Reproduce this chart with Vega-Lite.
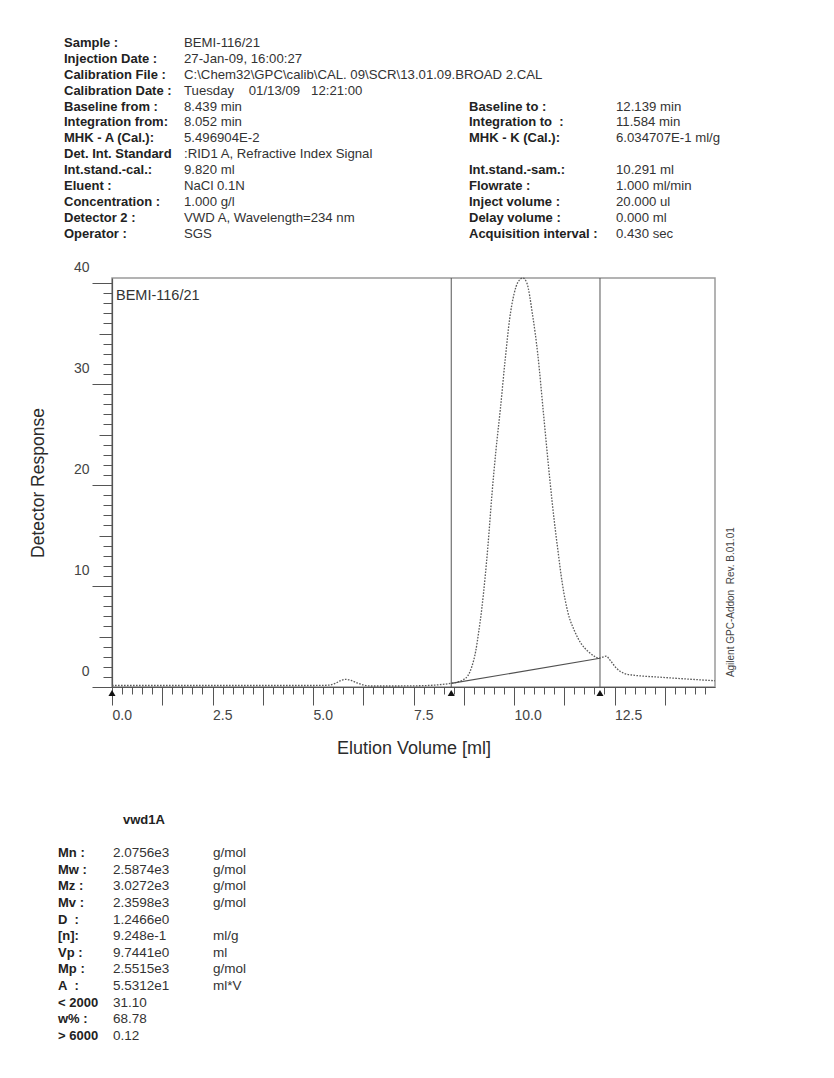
{
  "$schema": "https://vega.github.io/schema/vega-lite/v6.json",
  "background": "white",
  "padding": {"left": 28, "top": 0, "right": 5, "bottom": 0},
  "bounds": "flush",
  "spacing": 0,
  "config": {
    "font": "Liberation Sans",
    "view": {"stroke": null},
    "axis": {"labelFont": "Liberation Sans", "titleFont": "Liberation Sans", "grid": false}
  },
  "datasets": {
    "header": [
      {"side": "left", "line": 0, "label": "Sample :", "value": "BEMI-116/21"},
      {"side": "left", "line": 1, "label": "Injection Date :", "value": "27-Jan-09, 16:00:27"},
      {"side": "left", "line": 2, "label": "Calibration File :", "value": "C:\\Chem32\\GPC\\calib\\CAL. 09\\SCR\\13.01.09.BROAD 2.CAL"},
      {"side": "left", "line": 3, "label": "Calibration Date :", "value": "Tuesday\u00a0\u00a0\u00a0\u00a001/13/09\u00a0\u00a0\u00a012:21:00"},
      {"side": "left", "line": 4, "label": "Baseline from :", "value": "\u00a0\u00a08.439 min"},
      {"side": "left", "line": 5, "label": "Integration from:", "value": "\u00a0\u00a08.052 min"},
      {"side": "left", "line": 6, "label": "MHK - A (Cal.):", "value": "\u00a05.496904E-2"},
      {"side": "left", "line": 7, "label": "Det. Int. Standard", "value": ":RID1 A, Refractive Index Signal"},
      {"side": "left", "line": 8, "label": "Int.stand.-cal.:", "value": "\u00a0\u00a09.820 ml"},
      {"side": "left", "line": 9, "label": "Eluent :", "value": "NaCl 0.1N"},
      {"side": "left", "line": 10, "label": "Concentration :", "value": "\u00a0\u00a01.000 g/l"},
      {"side": "left", "line": 11, "label": "Detector 2 :", "value": "VWD A, Wavelength=234 nm"},
      {"side": "left", "line": 12, "label": "Operator :", "value": "SGS"},
      {"side": "right", "line": 4, "label": "Baseline to :", "value": "12.139 min"},
      {"side": "right", "line": 5, "label": "Integration to\u00a0\u00a0:", "value": "11.584 min"},
      {"side": "right", "line": 6, "label": "MHK - K (Cal.):", "value": "6.034707E-1 ml/g"},
      {"side": "right", "line": 8, "label": "Int.stand.-sam.:", "value": "10.291 ml"},
      {"side": "right", "line": 9, "label": "Flowrate :", "value": "\u00a01.000 ml/min"},
      {"side": "right", "line": 10, "label": "Inject volume :", "value": "20.000 ul"},
      {"side": "right", "line": 11, "label": "Delay volume :", "value": "\u00a00.000 ml"},
      {"side": "right", "line": 12, "label": "Acquisition interval :", "value": "\u00a00.430 sec"}
    ],
    "curve": [
      {"volume": 0, "response": 0.15}, {"volume": 1, "response": 0.15}, {"volume": 2, "response": 0.15},
      {"volume": 3, "response": 0.15}, {"volume": 4, "response": 0.15}, {"volume": 5, "response": 0.15},
      {"volume": 5.4, "response": 0.18}, {"volume": 5.55, "response": 0.35}, {"volume": 5.7, "response": 0.65},
      {"volume": 5.82, "response": 0.76}, {"volume": 5.95, "response": 0.65}, {"volume": 6.1, "response": 0.4},
      {"volume": 6.25, "response": 0.2}, {"volume": 6.45, "response": 0.1}, {"volume": 7.0, "response": 0.1},
      {"volume": 7.6, "response": 0.12}, {"volume": 8.0, "response": 0.18}, {"volume": 8.2, "response": 0.25},
      {"volume": 8.44, "response": 0.37}, {"volume": 8.6, "response": 0.5}, {"volume": 8.75, "response": 0.75},
      {"volume": 8.85, "response": 1.1}, {"volume": 8.95, "response": 2.0}, {"volume": 9.05, "response": 3.6},
      {"volume": 9.12, "response": 5.4}, {"volume": 9.2, "response": 7.8}, {"volume": 9.28, "response": 10.8},
      {"volume": 9.35, "response": 13.9}, {"volume": 9.45, "response": 19.0}, {"volume": 9.55, "response": 23.4},
      {"volume": 9.66, "response": 27.5}, {"volume": 9.78, "response": 32.4}, {"volume": 9.89, "response": 36.4},
      {"volume": 10.0, "response": 38.9}, {"volume": 10.1, "response": 40.1}, {"volume": 10.22, "response": 40.5},
      {"volume": 10.32, "response": 40.0}, {"volume": 10.46, "response": 36.9}, {"volume": 10.59, "response": 33.0},
      {"volume": 10.74, "response": 26.8}, {"volume": 10.9, "response": 20.2}, {"volume": 11.0, "response": 16.5},
      {"volume": 11.09, "response": 13.6}, {"volume": 11.2, "response": 10.3}, {"volume": 11.34, "response": 7.4},
      {"volume": 11.5, "response": 5.6}, {"volume": 11.67, "response": 4.3}, {"volume": 11.85, "response": 3.5},
      {"volume": 12.0, "response": 3.05}, {"volume": 12.11, "response": 2.85}, {"volume": 12.2, "response": 2.95},
      {"volume": 12.29, "response": 3.05}, {"volume": 12.4, "response": 2.6}, {"volume": 12.55, "response": 1.85},
      {"volume": 12.74, "response": 1.35}, {"volume": 12.95, "response": 1.18}, {"volume": 13.2, "response": 1.08},
      {"volume": 13.6, "response": 0.98}, {"volume": 14.0, "response": 0.87}, {"volume": 14.5, "response": 0.74},
      {"volume": 15.0, "response": 0.62}
    ],
    "baseline": [
      {"volume": 8.439, "response": 0.35},
      {"volume": 12.139, "response": 2.85}
    ],
    "limits": [
      {"volume": 8.439, "limit": "Baseline from"},
      {"volume": 12.139, "limit": "Baseline to"}
    ],
    "markers": [
      {"volume": 0, "marker": "start"},
      {"volume": 8.439, "marker": "Baseline from"},
      {"volume": 12.139, "marker": "Baseline to"}
    ],
    "results": [
      {"line": 0, "heading": "vwd1A"},
      {"line": 2, "label": "Mn :", "value": "2.0756e3", "unit": "g/mol"},
      {"line": 3, "label": "Mw :", "value": "2.5874e3", "unit": "g/mol"},
      {"line": 4, "label": "Mz :", "value": "3.0272e3", "unit": "g/mol"},
      {"line": 5, "label": "Mv :", "value": "2.3598e3", "unit": "g/mol"},
      {"line": 6, "label": "D\u00a0\u00a0:", "value": "1.2466e0"},
      {"line": 7, "label": "[n]:", "value": "9.248e-1", "unit": "ml/g"},
      {"line": 8, "label": "Vp :", "value": "9.7441e0", "unit": "ml"},
      {"line": 9, "label": "Mp :", "value": "2.5515e3", "unit": "g/mol"},
      {"line": 10, "label": "A\u00a0\u00a0:", "value": "5.5312e1", "unit": "ml*V"},
      {"line": 11, "label": "< 2000", "value": "\u00a0\u00a0\u00a031.10"},
      {"line": 12, "label": "w% :", "value": "\u00a0\u00a0\u00a068.78"},
      {"line": 13, "label": "> 6000", "value": "\u00a0\u00a0\u00a0\u00a0\u00a00.12"}
    ]
  },
  "vconcat": [
    {
      "width": 603,
      "height": 278,
      "data": {"name": "header"},
      "layer": [
        {
          "mark": {"type": "text", "align": "left", "baseline": "middle", "fontWeight": "bold", "fontSize": 13, "color": "#222222"},
          "encoding": {
            "x": {"field": "side", "type": "nominal", "axis": null, "scale": {"domain": ["left", "right"], "range": [-48, 357], "padding": 0}},
            "y": {"field": "line", "type": "quantitative", "axis": null, "scale": {"domain": [-2.704, 14.78], "reverse": true, "nice": false, "zero": false}},
            "text": {"field": "label"}
          }
        },
        {
          "mark": {"type": "text", "align": "left", "baseline": "middle", "fontSize": 13.2, "color": "#333333"},
          "encoding": {
            "x": {"field": "side", "type": "nominal", "axis": null, "scale": {"domain": ["left", "right"], "range": [72, 504], "padding": 0}},
            "y": {"field": "line", "type": "quantitative", "axis": null, "scale": {"domain": [-2.704, 14.78], "reverse": true, "nice": false, "zero": false}},
            "text": {"field": "value"}
          }
        }
      ],
      "resolve": {"scale": {"x": "independent"}}
    },
    {
      "width": 603,
      "height": 409,
      "view": {"stroke": "#9a9a9a", "strokeWidth": 1.5},
      "resolve": {"axis": {"x": "independent", "y": "independent"}},
      "layer": [
        {
          "data": {"name": "curve"},
          "mark": {"type": "line", "color": "#5a5a5a", "strokeWidth": 1.3, "strokeDash": [1.6, 1.4], "interpolate": "monotone"},
          "encoding": {
            "x": {
              "field": "volume", "type": "quantitative",
              "scale": {"domain": [0, 15], "nice": false, "zero": false},
              "axis": {
                "orient": "bottom",
                "title": "Elution Volume [ml]", "titleFontSize": 18, "titleFontWeight": "normal", "titleColor": "#2b2b2b", "titlePadding": 17,
                "values": [0, 1.25, 2.5, 3.75, 5, 6.25, 7.5, 8.75, 10, 11.25, 12.5, 13.75],
                "tickSize": 18,
                "labelExpr": "datum.value % 2.5 === 0 ? format(datum.value, '.1f') : ''",
                "labelAlign": "left", "labelBaseline": "top", "labelPadding": 3, "labelOffset": 0,
                "labelFontSize": 14, "labelColor": "#444444", "labelFlush": false, "labelOverlap": false, "labelBound": false,
                "tickColor": "#555555", "tickWidth": 1, "domainColor": "#555555", "domainWidth": 1.2
              }
            },
            "y": {
              "field": "response", "type": "quantitative",
              "scale": {"domain": [0, 40.5], "nice": false, "zero": false},
              "axis": {
                "orient": "left",
                "title": "Detector Response", "titleFontSize": 17.5, "titleFontWeight": "normal", "titleColor": "#2b2b2b",
                "titleX": -65, "titleAngle": 270, "titleBaseline": "bottom",
                "values": [0, 10, 20, 30, 40],
                "tickSize": 20,
                "labelBaseline": "middle", "labelOffset": -16, "labelPadding": 3,
                "labelFontSize": 14, "labelColor": "#444444", "labelOverlap": false, "labelBound": false, "labelFlush": false,
                "tickColor": "#555555", "tickWidth": 1, "domainColor": "#555555", "domainWidth": 1.2
              }
            }
          }
        },
        {
          "data": {"name": "baseline"},
          "mark": {"type": "line", "color": "#505050", "strokeWidth": 1.2},
          "encoding": {
            "x": {
              "field": "volume", "type": "quantitative",
              "axis": {
                "orient": "bottom", "title": null, "labels": false, "domain": false,
                "values": [0.25, 0.5, 0.75, 1, 1.5, 1.75, 2, 2.25, 2.75, 3, 3.25, 3.5, 4, 4.25, 4.5, 4.75, 5.25, 5.5, 5.75, 6, 6.5, 6.75, 7, 7.25, 7.75, 8, 8.25, 8.5, 9, 9.25, 9.5, 9.75, 10.25, 10.5, 10.75, 11, 11.5, 11.75, 12, 12.25, 12.75, 13, 13.25, 13.5, 14, 14.25, 14.5, 14.75],
                "tickSize": 7, "tickColor": "#555555", "tickWidth": 1
              }
            },
            "y": {
              "field": "response", "type": "quantitative",
              "axis": {
                "orient": "left", "title": null, "labels": false, "domain": false,
                "values": [1, 2, 3, 4, 6, 7, 8, 9, 11, 12, 13, 14, 16, 17, 18, 19, 21, 22, 23, 24, 26, 27, 28, 29, 31, 32, 33, 34, 36, 37, 38, 39],
                "tickSize": 9, "tickColor": "#555555", "tickWidth": 1
              }
            }
          }
        },
        {
          "data": {"name": "limits"},
          "mark": {"type": "rule", "color": "#555555", "strokeWidth": 1},
          "encoding": {
            "x": {"field": "volume", "type": "quantitative", "axis": null}
          }
        },
        {
          "data": {"name": "markers"},
          "mark": {"type": "point", "shape": "triangle-up", "filled": true, "color": "#111111", "size": 50, "opacity": 1},
          "encoding": {
            "x": {"field": "volume", "type": "quantitative", "axis": null},
            "y": {"datum": -0.6, "type": "quantitative", "axis": null}
          }
        },
        {
          "data": {"values": [{"label": "BEMI-116/21"}]},
          "mark": {"type": "text", "align": "left", "baseline": "middle", "fontSize": 14.5, "color": "#333333"},
          "encoding": {
            "x": {"datum": 0.1, "type": "quantitative", "axis": null},
            "y": {
              "datum": 38.7, "type": "quantitative",
              "axis": {
                "orient": "left", "title": null, "labels": false, "domain": false,
                "values": [5, 15, 25, 35],
                "tickSize": 13, "tickColor": "#555555", "tickWidth": 1
              }
            },
            "text": {"field": "label"}
          }
        },
        {
          "data": {"values": [{"label": "Agilent GPC-Addon\u00a0\u00a0Rev. B.01.01"}]},
          "mark": {"type": "text", "align": "center", "baseline": "middle", "angle": 270, "fontSize": 10, "color": "#444444"},
          "encoding": {
            "x": {"datum": 15.39, "type": "quantitative", "axis": null},
            "y": {"datum": 8.4, "type": "quantitative", "axis": null},
            "text": {"field": "label"}
          }
        }
      ]
    },
    {
      "width": 603,
      "height": 391,
      "data": {"name": "results"},
      "layer": [
        {
          "transform": [{"fold": ["label", "heading"], "as": ["column", "text"]}, {"filter": "isValid(datum.text)"}],
          "mark": {"type": "text", "align": "left", "baseline": "middle", "fontWeight": "bold", "fontSize": 13, "color": "#222222"},
          "encoding": {
            "x": {"field": "column", "type": "nominal", "axis": null, "scale": {"domain": ["label", "heading"], "range": [-54, 11], "padding": 0}},
            "y": {"field": "line", "type": "quantitative", "axis": null, "scale": {"domain": [-8.012, 15.542], "reverse": true, "nice": false, "zero": false}},
            "text": {"field": "text"}
          }
        },
        {
          "transform": [{"fold": ["value", "unit"], "as": ["column", "text"]}, {"filter": "isValid(datum.text)"}],
          "mark": {"type": "text", "align": "left", "baseline": "middle", "fontSize": 13.5, "color": "#333333"},
          "encoding": {
            "x": {"field": "column", "type": "nominal", "axis": null, "scale": {"domain": ["value", "unit"], "range": [1, 101], "padding": 0}},
            "y": {"field": "line", "type": "quantitative", "axis": null, "scale": {"domain": [-8.012, 15.542], "reverse": true, "nice": false, "zero": false}},
            "text": {"field": "text"}
          }
        }
      ],
      "resolve": {"scale": {"x": "independent"}}
    }
  ]
}
